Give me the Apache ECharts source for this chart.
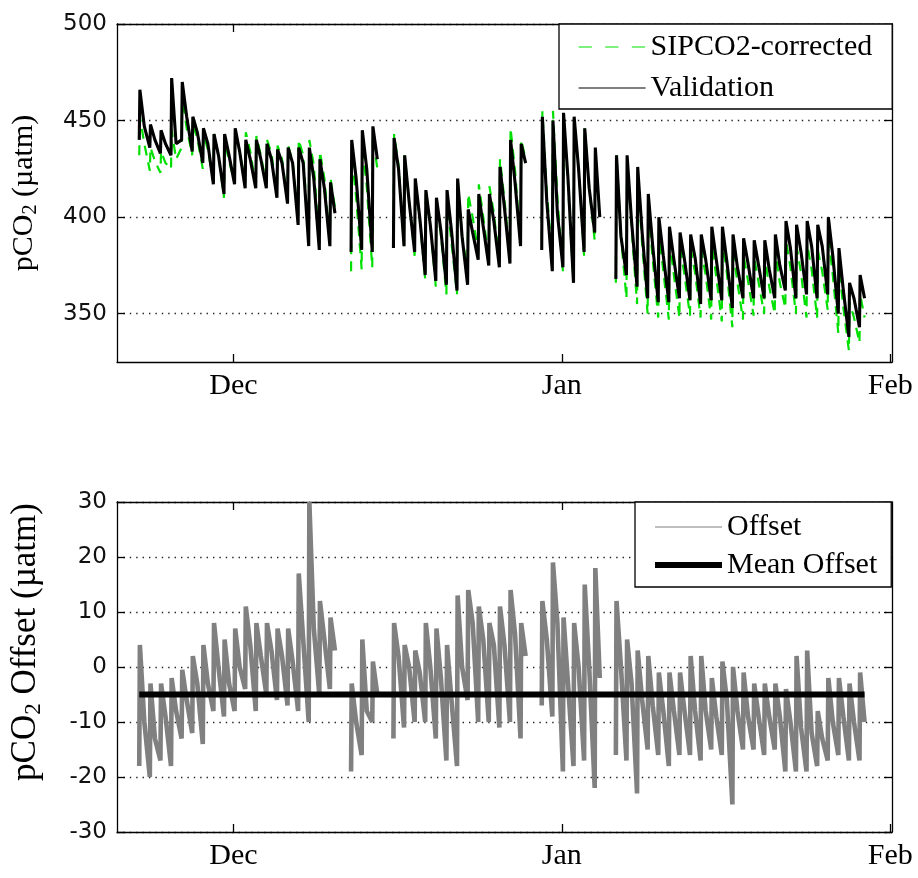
<!DOCTYPE html>
<html>
<head>
<meta charset="utf-8">
<script src="https://cdn.jsdelivr.net/npm/echarts@6/dist/echarts.min.js"></script>
<style>html,body{margin:0;padding:0;background:#fff}#c{width:918px;height:878px}</style>
</head>
<body>
<div id="c"></div>
<script>
// ---- data (one entry per day, starting 2010-11-22; null = no data) ----
const firstDay = '2010-11-22';
const axisStartDay = '2010-11-20';
const axisSpanDays = 73.17;
const monthTickDates = ['2010-12-01', '2011-01-01', '2011-02-01'];
const monthTickLabels = ['Dec', 'Jan', 'Feb'];
const pco2TickValues = [350, 400, 450, 500];
const offsetTickValues = [-30, -20, -10, 0, 10, 20, 30];

const validationHi = [466,448,445,472,470,452,446,443,443,446,440,440,438,435,436,436,436,430,418,null,440,445,447,null,441,432,420,414,410,414,420,404,412,412,426,440,438,null,452,450,454,452,446,436,null,432,432,426,412,400,395,392,391,391,395,395,391,389,388,388,391,398,396,398,396,400,384,366,370];
const validationLo = [440,436,433,432,440,434,428,417,412,417,415,415,415,410,407,396,385,383,385,null,382,383,382,null,384,385,382,370,367,365,362,365,378,375,374,376,385,null,383,372,374,366,382,392,null,368,370,364,358,356,356,358,357,355,357,357,353,358,358,358,358,362,358,360,358,360,350,338,343];
const validationMid = [447,440,438,438,452,444,438,432,432,434,430,430,430,428,428,428,420,415,402,null,420,425,430,null,425,408,400,396,393,393,390,392,395,398,405,418,428,null,408,402,420,425,415,400,null,390,398,392,385,380,378,378,379,378,378,377,374,376,375,373,375,384,382,385,385,380,362,358,358];

const correctedHi = [452,436,434,445,462,448,443,443,440,445,444,442,440,437,437,440,440,434,420,null,432,437,442,null,443,432,419,414,408,408,420,412,417,416,430,446,440,null,455,455,450,450,446,434,null,432,428,420,405,392,388,385,384,383,386,389,383,380,379,379,382,388,385,386,383,390,375,356,360];
const correctedLo = [432,424,423,425,436,432,425,418,410,418,418,416,417,411,408,400,390,386,387,null,372,373,374,null,386,385,380,368,364,360,360,372,382,378,377,380,386,null,388,378,372,366,380,388,null,366,358,355,350,348,347,348,349,348,347,346,343,347,349,350,350,353,350,348,348,352,340,331,335];
const correctedMid = [438,429,428,430,446,441,435,432,429,434,434,432,433,430,429,432,427,420,405,null,410,416,425,null,427,408,399,396,391,387,390,400,400,402,409,424,430,null,413,410,417,425,415,398,null,390,395,386,378,372,370,370,371,370,369,371,366,367,366,364,366,374,371,373,372,370,353,348,348];

const offsetHi = [4,-3,-3,-2,-0.5,2,4,8,5,7,11,8,8,7,7,17,30,12,9,null,-3,5,1,null,8,4,3,8,7,4,13,14,11,8,11,14,8,null,12,19,9,8,15,18,null,12,5,3,2,-1,-1,-1,2,2,-2,1,0,-1,-3,-3,-3,-4,2,3,-8,-2,-2,-3,-1];
const offsetLo = [-18,-20,-17,-18,-13,-12,-14,-8,-9,-8,-4,-8,-5,-6,-7,-8,-10,-5,-4,null,-19,-16,-10,null,-13,-11,-10,-10,-13,-17,-18,-6,-10,-10,-11,-10,-13,null,-7,-9,-19,-18,-17,-22,null,-16,-17,-23,-15,-16,-18,-16,-16,-17,-15,-16,-25,-15,-15,-16,-15,-19,-19,-19,-18,-17,-16,-17,-17];
const offsetMid = [-10,-13,-9,-8,-6,-3,-3,0,-3,0,4,2,3,2,1,5,7,5,3,null,-10,-8,-5,null,2,0,-1,0,-2,-6,0,8,5,4,4,6,2,null,5,8,-3,0,0,-2,null,0,-3,-6,-7,-8,-8,-8,-8,-8,-9,-6,-8,-9,-9,-9,-9,-10,-11,-12,-13,-10,-9,-10,-10];
const meanOffset = -5;

// ---- build (x = days since axisStartDay) ----
const DAY = 86400000;
const dayNum = s => Date.parse(s + 'T00:00:00Z') / DAY;
const axisMin = 0;
const axisMax = axisSpanDays;
const d0 = dayNum(firstDay) - dayNum(axisStartDay);
const monthTicks = monthTickDates.map(d => dayNum(d) - dayNum(axisStartDay));

// each day: low reading, then the high reading shortly after, then the typical level
function dailyTrace(hi, lo, mid) {
  const pts = [];
  for (let i = 0; i < hi.length; i++) {
    const t = d0 + i;
    if (hi[i] == null) { pts.push([t + 0.5, '-']); continue; }
    pts.push([t + 0.1, lo[i]], [t + 0.16, hi[i]], [t + 0.58, mid[i]]);
  }
  return pts;
}
const firstT = d0 + 0.1;
const lastT = d0 + (offsetHi.length - 1) + 0.58;

const serif = 'Liberation Serif';
const sans = 'DejaVu Sans';
const monthFmt = v => {
  const k = monthTicks.findIndex(t => Math.abs(t - v) < 0.5);
  return k >= 0 ? monthTickLabels[k] : '';
};

function xAx(grid, pos, labels) {
  return {
    type: 'value', gridIndex: grid, position: pos, min: axisMin, max: axisMax,
    axisLine: { show: true, onZero: false, lineStyle: { color: '#000', width: 1.3 } },
    axisTick: { show: true, inside: true, length: 8, customValues: monthTicks, lineStyle: { color: '#000', width: 1.3 } },
    axisLabel: { show: labels, customValues: monthTicks, formatter: monthFmt, margin: 9,
      fontFamily: serif, fontSize: 30, color: '#000' },
    splitLine: { show: false }, minorTick: { show: false }
  };
}
function yAx(grid, pos, labels, min, max, ticks, name) {
  const o = {
    type: 'value', gridIndex: grid, position: pos, min: min, max: max,
    axisLine: { show: true, onZero: false, lineStyle: { color: '#000', width: 1.3 } },
    axisTick: { show: true, inside: true, length: 8, customValues: ticks, lineStyle: { color: '#000', width: 1.3 } },
    axisLabel: { show: labels, customValues: ticks, margin: 10, fontFamily: sans, fontSize: 23, color: '#111' },
    splitLine: { show: labels, lineStyle: { color: '#222', width: 1.4, type: [1.4, 5] } }
  };
  if (name) {
    o.name = name.text;
    o.nameLocation = 'middle';
    o.nameGap = name.gap;
    o.nameTextStyle = {
      color: '#000', padding: name.pad,
      rich: {
        n: { fontFamily: serif, fontSize: name.size, color: '#000' },
        s: { fontFamily: serif, fontSize: Math.round(name.size * 0.67), color: '#000', padding: [Math.round(name.size * 0.47), 0, 0, 0] }
      }
    };
  }
  return o;
}

const legendBase = {
  orient: 'vertical', backgroundColor: '#fff', borderColor: '#000', borderWidth: 1.3,
  itemWidth: 67, itemHeight: 30, borderRadius: 0, itemStyle: { opacity: 0 },
  textStyle: { fontFamily: serif, fontSize: 30, color: '#000', lineHeight: 30 }
};

const option = {
  animation: false,
  backgroundColor: '#fff',
  grid: [
    { left: 117, top: 24, width: 775, height: 338, show: false, containLabel: false, outerBoundsMode: 'none' },
    { left: 117, top: 502, width: 775, height: 330, show: false, containLabel: false, outerBoundsMode: 'none' }
  ],
  xAxis: [xAx(0, 'bottom', true), xAx(0, 'top', false), xAx(1, 'bottom', true), xAx(1, 'top', false)],
  yAxis: [
    yAx(0, 'left', true, 325, 500, pco2TickValues, { text: '{n|pCO}{s|2}{n| (µatm)}', gap: 76, pad: 0, size: 30 }),
    yAx(0, 'right', false, 325, 500, pco2TickValues),
    yAx(1, 'left', true, -30, 30, offsetTickValues, { text: '{n|pCO}{s|2}{n| Offset (µatm)}', gap: 72, pad: [0, 0, 0, 50], size: 35 }),
    yAx(1, 'right', false, -30, 30, offsetTickValues)
  ],
  legend: [
    Object.assign({}, legendBase, {
      left: 559, top: 24, padding: [8, 20, 6, 19], itemGap: 11,
      data: [
        { name: 'SIPCO2-corrected', itemStyle: { opacity: 0 }, lineStyle: { width: 1.2, type: [13.3, 13.3] } },
        { name: 'Validation', itemStyle: { opacity: 0 }, lineStyle: { width: 1.2 } }
      ]
    }),
    Object.assign({}, legendBase, {
      left: 635, top: 502, padding: [10, 14, 7, 17], itemGap: 8,
      data: [
        { name: 'Offset', itemStyle: { opacity: 0 }, lineStyle: { width: 1.2 } },
        { name: 'Mean Offset', itemStyle: { opacity: 0 }, lineStyle: { width: 6 } }
      ]
    })
  ],
  series: [
    { name: 'SIPCO2-corrected', type: 'line', xAxisIndex: 0, yAxisIndex: 0, symbol: 'none',
      data: dailyTrace(correctedHi, correctedLo, correctedMid), color: '#00e000',
      lineStyle: { color: '#00e000', width: 2.2, type: [10, 7] }, z: 2 },
    { name: 'Validation', type: 'line', xAxisIndex: 0, yAxisIndex: 0, symbol: 'none',
      data: dailyTrace(validationHi, validationLo, validationMid), color: '#000',
      lineStyle: { color: '#000', width: 3.1 }, z: 3 },
    { name: 'Offset', type: 'line', xAxisIndex: 2, yAxisIndex: 2, symbol: 'none',
      data: dailyTrace(offsetHi, offsetLo, offsetMid), color: '#808080',
      lineStyle: { color: '#808080', width: 4.6 }, z: 2 },
    { name: 'Mean Offset', type: 'line', xAxisIndex: 2, yAxisIndex: 2, symbol: 'none',
      data: [[firstT, meanOffset], [lastT, meanOffset]], color: '#000',
      lineStyle: { color: '#000', width: 6 }, z: 3 }
  ]
};
const chart = echarts.init(document.getElementById('c'));
chart.setOption(option);
</script>
</body>
</html>
